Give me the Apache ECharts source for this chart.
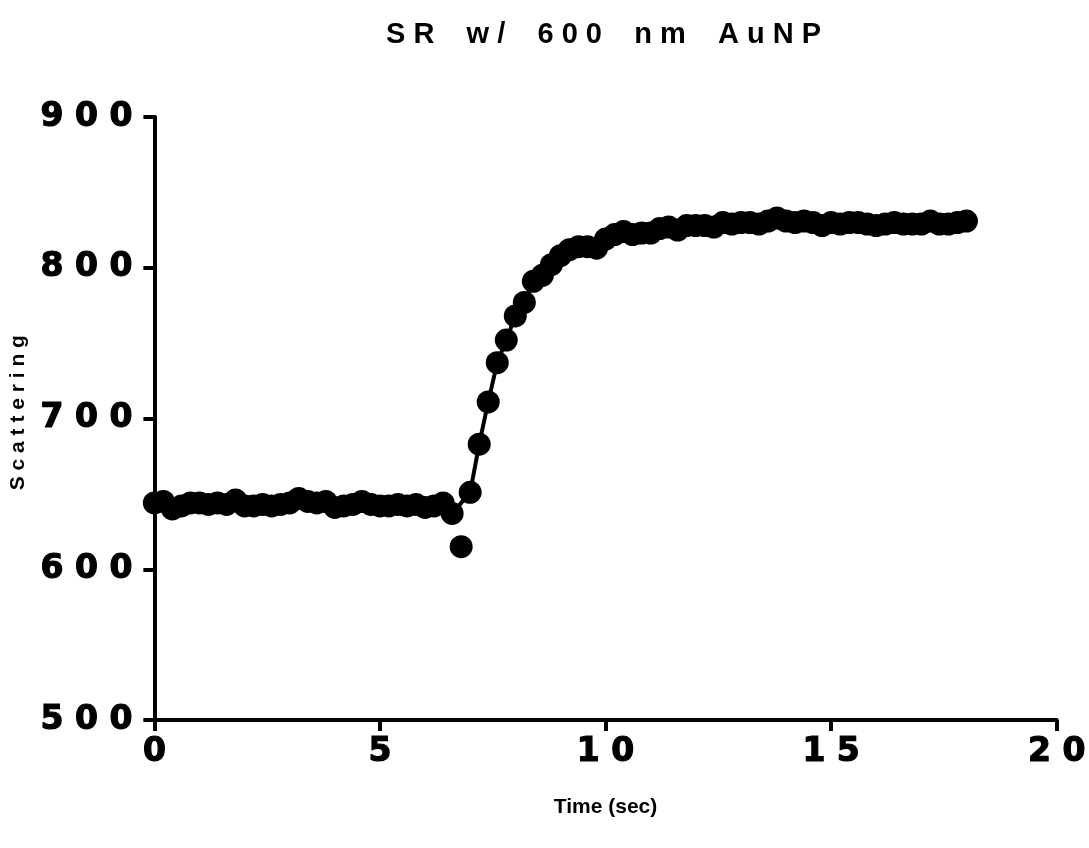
<!DOCTYPE html>
<html>
<head>
<meta charset="utf-8">
<script src="https://cdn.jsdelivr.net/npm/echarts@6/dist/echarts.min.js"></script>
<style>html,body{margin:0;padding:0;background:#fff;}#c{width:1089px;height:848px;}</style>
</head>
<body>
<div id="c"></div>
<script>
const titleText = 'SR w/ 600 nm AuNP';
const xName = 'Time (sec)';
const yName = 'Scattering';
const xTicks = [0, 5, 10, 15, 20];
const yTicks = [500, 600, 700, 800, 900];
const times = [
  0.0, 0.2, 0.4, 0.6, 0.8, 1.0, 1.2, 1.4, 1.6, 1.8,
  2.0, 2.2, 2.4, 2.6, 2.8, 3.0, 3.2, 3.4, 3.6, 3.8,
  4.0, 4.2, 4.4, 4.6, 4.8, 5.0, 5.2, 5.4, 5.6, 5.8,
  6.0, 6.2, 6.4, 6.6, 6.8, 7.0, 7.2, 7.4, 7.6, 7.8,
  8.0, 8.2, 8.4, 8.6, 8.8, 9.0, 9.2, 9.4, 9.6, 9.8,
  10.0, 10.2, 10.4, 10.6, 10.8, 11.0, 11.2, 11.4, 11.6, 11.8,
  12.0, 12.2, 12.4, 12.6, 12.8, 13.0, 13.2, 13.4, 13.6, 13.8,
  14.0, 14.2, 14.4, 14.6, 14.8, 15.0, 15.2, 15.4, 15.6, 15.8,
  16.0, 16.2, 16.4, 16.6, 16.8, 17.0, 17.2, 17.4, 17.6, 17.8,
  18.0
];
const scattering = [
  644, 645, 640, 642, 644, 644, 643, 644, 643, 646,
  642, 642, 643, 642, 643, 644, 647, 645, 644, 645,
  641, 642, 643, 645, 643, 642, 642, 643, 642, 643,
  641, 642, 644, 637, 615, 651, 683, 711, 737, 752,
  768, 777, 791, 795, 802, 808, 812, 814, 814, 813,
  819, 822, 824, 822, 823, 823, 826, 827, 825, 828,
  828, 828, 827, 830, 829, 830, 830, 829, 831, 833,
  831, 830, 831, 830, 828, 830, 829, 830, 830, 829,
  828, 829, 830, 829, 829, 829, 831, 829, 829, 830,
  831
];
// times whose points the connecting line skips (outlier)
const lineExclude = [6.8];

const pts = times.map((t, i) => [t, scattering[i]]);
const linePts = times.map((t, i) => lineExclude.indexOf(t) >= 0 ? [t, '-'] : [t, scattering[i]]);

const spaced = s => String(s).split('').join(' ');
const spacedWords = (s, gap) => s.split(' ').map(w => spaced(w)).join(gap);

const tickLabel = {color: '#000', fontFamily: 'DejaVu Sans, sans-serif', fontWeight: 'bold', fontSize: 33,
  textBorderColor: '#000', textBorderWidth: 1.2, formatter: v => spaced(v)};

const chart = echarts.init(document.getElementById('c'), null, {renderer: 'canvas'});
chart.setOption({
  backgroundColor: '#ffffff',
  animation: false,
  title: {
    text: spacedWords(titleText, '    '),
    left: 381, top: 15,
    textStyle: {fontFamily: 'Liberation Sans, Arial, sans-serif', fontWeight: 'bold', fontSize: 29, color: '#000'}
  },
  grid: {left: 154, right: 27, top: 117, bottom: 128},
  xAxis: {
    type: 'value', min: xTicks[0], max: xTicks[xTicks.length - 1], interval: 5,
    name: xName, nameLocation: 'middle', nameGap: 77,
    nameTextStyle: {fontFamily: 'Liberation Sans, Arial, sans-serif', fontWeight: 'bold', fontSize: 21, color: '#000'},
    axisLine: {onZero: false, lineStyle: {color: '#000', width: 4}},
    axisTick: {length: 11, lineStyle: {color: '#000', width: 4}},
    axisLabel: Object.assign({margin: 16}, tickLabel),
    splitLine: {show: false}
  },
  yAxis: {
    type: 'value', min: yTicks[0], max: yTicks[yTicks.length - 1], interval: 100,
    name: '  ' + spaced(yName), nameLocation: 'middle', nameGap: 120,
    nameTextStyle: {fontFamily: 'Liberation Sans, Arial, sans-serif', fontWeight: 'bold', fontSize: 21, color: '#000'},
    axisLine: {onZero: false, lineStyle: {color: '#000', width: 4}},
    axisTick: {length: 11, lineStyle: {color: '#000', width: 4}},
    axisLabel: Object.assign({margin: 22}, tickLabel),
    splitLine: {show: false}
  },
  series: [
    {
      type: 'line', data: linePts, showSymbol: false, connectNulls: true,
      lineStyle: {color: '#000', width: 4}, z: 2, silent: true
    },
    {
      type: 'scatter', data: pts, symbol: 'circle', symbolSize: 23,
      itemStyle: {color: '#000', opacity: 1}, z: 3, silent: true
    }
  ]
});
</script>
</body>
</html>
